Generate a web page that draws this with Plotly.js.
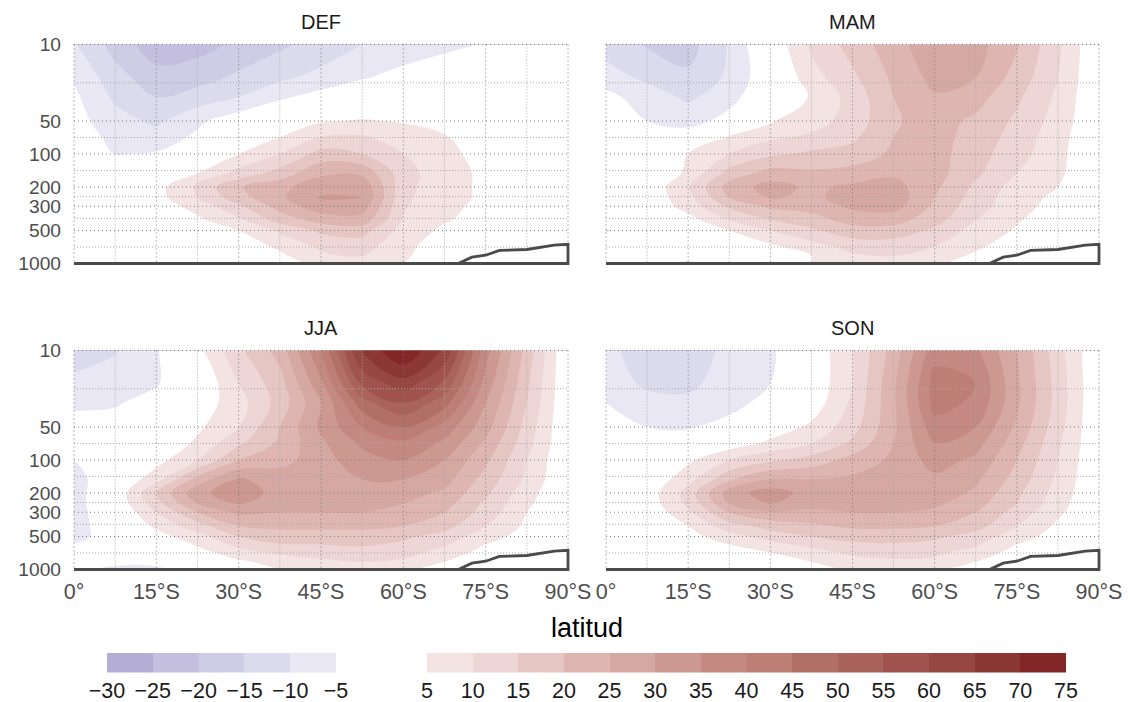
<!DOCTYPE html>
<html>
<head>
<meta charset="utf-8">
<script src="https://cdn.plot.ly/plotly-3.0.1.min.js"></script>
<style>
  html, body { margin: 0; padding: 0; background: #ffffff; }
  #chart { width: 1132px; height: 702px; }
</style>
</head>
<body>
<div id="chart"></div>
<script>
// Zonal-mean zonal wind (m/s) by season, latitude (0..90°S) and pressure level (hPa)
const latitudes = [0, 7.5, 15, 22.5, 30, 37.5, 45, 52.5, 60, 67.5, 75, 82.5, 90];
const pressureLevels = [10, 20, 30, 50, 70, 100, 150, 200, 250, 300, 400, 500, 700, 850, 1000];

const windDEF = [
  [-9.5, -17, -23, -22, -19, -16, -13, -10, -8.5, -6.5, -4.6, -2, -1],
  [-5.5, -13, -18, -17, -14, -11, -8.5, -5.5, -3, -1, 0, 0, 0],
  [-4, -11, -15, -13, -10, -6, -3, -1, 0, 1, 1, 1, 0],
  [-3, -8, -11, -6, -2, 1, 4.5, 5.5, 4.5, 2, 1, 0, 0],
  [-2, -6.5, -8, -4, 1, 5, 10, 10.5, 8, 5.5, 2, 1, 0],
  [-1, -5.2, -4.5, 0, 5, 10, 17, 15, 10, 6.5, 3, 1, 0],
  [0, 0, 2, 5, 12, 17, 24, 24, 12, 7, 4, 2, 1],
  [0, 1, 3, 11, 19.5, 23.5, 28, 29, 11.5, 7, 4, 2, 1],
  [0, 1, 3, 10, 18, 24, 30.5, 30, 11, 7, 4, 2, 1],
  [0, 1, 2, 7, 14, 22, 28, 27.5, 10.5, 6.5, 3.5, 2, 1],
  [0, 0, 1, 4, 9, 17, 22, 23, 9.5, 5.5, 3, 1, 0],
  [0, 0, 0, 2, 5, 11, 16, 17, 8, 4, 2, 1, 0],
  [-1, -1, -1, 0, 2, 6, 11, 12, 6.5, 2, 0, 0, 0],
  [-2, -3, -3, -2, 0, 4, 9, 10, 6, 1, 0, 0, 0],
  [-2, -4, -4, -3, -1, 2, 7, 7, 5, 0, 0, 0, 0]
];

const windMAM = [
  [-12, -15.5, -17, -9.5, 1, 11, 17, 23, 28.5, 27, 20.5, 11, 0],
  [-8, -11, -14, -9, -1, 8, 14, 21, 26.5, 25, 18, 10, 0],
  [-3.5, -7.5, -11, -7, 0, 5.5, 12, 20, 24.5, 22, 16, 9, 0],
  [-1.5, -5, -7, -3, 4.5, 8, 12, 19.5, 22, 19, 14, 8, 0],
  [0, -1, -2, 5.5, 9, 11, 14, 20, 22, 18, 13, 7, 0],
  [0, 0, 5, 10, 14, 16, 17, 21, 22, 17, 12, 6.5, 0],
  [0, 0, 6, 17, 22, 21, 22, 24, 22, 16, 10, 6, 0],
  [0, 1, 9.5, 22, 27, 24, 26, 27, 21, 14, 8, 5, 0],
  [0, 1, 8.5, 20, 25.5, 24, 27, 28, 20, 13, 7, 4, 0],
  [0, 1, 7, 16, 21, 22, 26, 27, 19, 12, 7, 3, 0],
  [-2, 0, 3, 10, 15, 18, 22, 22, 17, 10, 5.5, 2, 0],
  [-5.5, -1, 1, 5, 10, 14, 18, 18, 14, 8, 4.5, 2, 0],
  [-2, -2, -2, 1, 4, 8, 12, 12, 10, 6, 2, 1, 0],
  [-2, -3, -4, -2, 1, 5, 9, 10, 8, 4, 1, 0, 0],
  [-2, -4, -5.5, -3, 0, 5, 8, 8, 6, 2, 0, 0, 0]
];

const windJJA = [
  [-12, -10.5, -5.5, 3.5, 14, 22, 40, 66, 75, 64, 37, 18, 0],
  [-9, -7, -5.5, 0, 10, 18, 34, 56, 63, 54, 33, 16, 0],
  [-5.5, -5.5, -3, 2, 8, 17, 30, 48, 55, 47, 30, 15, 0],
  [-4, -3, -2, 4, 10, 20, 31, 40, 45, 38, 27, 13, 0],
  [-3, -2, 0, 6, 14, 21, 29, 36, 39, 34, 24, 12, 0],
  [-5, -1, 3, 10, 20, 23, 28, 33, 35, 30, 21, 10, 0],
  [-7.5, 0, 8, 22, 30.5, 28, 27, 30, 30, 27, 18, 9, 0],
  [-7.5, 1, 15, 28.5, 33, 28, 26, 28, 27, 24, 16, 7, 0],
  [-7.5, 1, 13, 25, 30.5, 27, 26, 27, 25, 22, 14, 6, 0],
  [-7.5, 0, 10, 20, 26, 25, 25, 25, 23, 20, 13, 5, 0],
  [-7.5, -1, 6, 13, 20, 21, 21, 21, 20, 17, 10, 4, 0],
  [-7, -2, 3, 8, 15, 18, 18, 18, 16, 13, 7, 3, 0],
  [-2, -2, 0, 3, 8, 11, 12, 13, 12, 8, 3, 1, 0],
  [-4, -4, -3.5, 0, 4, 7, 9, 10, 9, 5, 1, 0, 0],
  [-4, -6, -6, -3, 0, 5, 7, 8, 6, 2, 0, 0, 0]
];

const windSON = [
  [-9, -12, -12, -9, -6, 1, 10, 22, 38, 36, 25, 12, 0],
  [-7, -11, -11, -8, -5, 1, 10, 24, 42, 40, 26, 13, 0],
  [-5, -8, -9, -7, -3, 2, 11, 24, 42, 39, 26, 13, 0],
  [-3, -5, -5.5, -3, 2, 6, 13, 24, 38, 35, 24, 12, 0],
  [-1, -2, -2, 2, 6, 10, 16, 25, 35, 32, 22, 11, 0],
  [0, 0, 4, 10, 14, 17, 22, 26, 32, 29, 20, 10, 0],
  [0, 1, 8, 19, 25, 25, 26, 28, 29, 26, 18, 9, 0],
  [0, 2, 12, 27.5, 32.5, 28, 27, 28, 28, 24, 16, 8, 0],
  [0, 2, 11, 25, 30, 27, 27, 27, 26, 22, 15, 7, 0],
  [0, 1, 9, 20, 24.5, 24, 25, 25, 24, 20, 13, 6, 0],
  [0, 1, 5, 13, 17, 19, 21, 21, 20, 17, 10, 4, 0],
  [0, 0, 3, 8, 12, 15, 17, 17, 16, 13, 7, 3, 0],
  [-1, -1, -1, 2, 5, 8, 11, 12, 11, 8, 3, 1, 0],
  [-3, -3, -3, -1, 2, 5, 8, 9, 9, 5, 1, 0, 0],
  [-4, -5.5, -5, -2, 0, 3, 6, 7, 6, 2, 0, 0, 0]
];

const seasonNames = ['DEF', 'MAM', 'JJA', 'SON'];
const seasonWinds = [windDEF, windMAM, windJJA, windSON];

// Zonal-mean surface pressure (hPa): the Antarctic plateau rises south of 70°S
const surfaceLat = [0, 70, 72.5, 75, 77.5, 82.5, 87.5, 90];
const surfacePressure = [1000, 1000, 875, 840, 760, 745, 680, 668];

// Axis breaks
const latTicks = [0, 15, 30, 45, 60, 75, 90];
const latTickLabels = ['0°', '15°S', '30°S', '45°S', '60°S', '75°S', '90°S'];
const pressureTicks = [10, 50, 100, 200, 300, 500, 1000];
const pressureTickLabels = ['10', '50', '100', '200', '300', '500', '1000'];

// Filled contour levels and their colours
const negativeLevels = [-30, -25, -20, -15, -10, -5];
const positiveLevels = [5, 10, 15, 20, 25, 30, 35, 40, 45, 50, 55, 60, 65, 70, 75];
const negativeColors = ['#b4add6', '#c4bedf', '#cfcce5', '#dcdaed', '#e9e7f3'];
const positiveColors = ['#f3e4e3', '#edd6d5', '#e6c6c2', '#deb5b0', '#d6a8a2', '#cd9890', '#c48a82',
                        '#bc7e75', '#b16f65', '#a9635a', '#a0534e', '#964741', '#8b3734', '#832627'];
const neutralColor = '#ffffff';

// ---------- colour scale shared by contours and colour bars ----------
const levelStep = negativeLevels[1] - negativeLevels[0];
const zLow = negativeLevels[0] - levelStep / 2;
const zHigh = positiveLevels[positiveLevels.length - 1] + levelStep / 2;
const toUnit = v => (v - zLow) / (zHigh - zLow);

const bands = [];
bands.push([zLow, negativeLevels[0], negativeColors[0]]);
for (let i = 0; i < negativeColors.length; i++) bands.push([negativeLevels[i], negativeLevels[i + 1], negativeColors[i]]);
bands.push([negativeLevels[negativeLevels.length - 1], positiveLevels[0], neutralColor]);
for (let i = 0; i < positiveColors.length; i++) bands.push([positiveLevels[i], positiveLevels[i + 1], positiveColors[i]]);
bands.push([positiveLevels[positiveLevels.length - 1], zHigh, positiveColors[positiveColors.length - 1]]);
const colorscale = [];
bands.forEach(([a, b, c]) => { colorscale.push([toUnit(a), c]); colorscale.push([toUnit(b), c]); });
colorscale[0][0] = 0;
colorscale[colorscale.length - 1][0] = 1;

// ---------- page geometry (pixels) ----------
const W = 1132, H = 702;
const panelBoxes = [
  { L: 74, R: 568, T: 44.5, B: 263.5 },
  { L: 606, R: 1099, T: 44.5, B: 263.5 },
  { L: 74, R: 568, T: 350.5, B: 569.5 },
  { L: 606, R: 1099, T: 350.5, B: 569.5 }
];
const pad = 2;
const latMin = latTicks[0], latMax = latTicks[latTicks.length - 1];
const pTop = pressureTicks[0], pBottom = pressureTicks[pressureTicks.length - 1];

const font = 'Liberation Sans, Arial, Helvetica, sans-serif';
const latTickFont = { family: font, size: 21.5, color: '#4d4d4d' };
const pressureTickFont = { family: font, size: 19.2, color: '#4d4d4d' };

// minor breaks sit half-way between major breaks (log-half-way for pressure)
const latMinor = latTicks.slice(1).map((v, i) => (v + latTicks[i]) / 2);
const pressureMinor = pressureTicks.slice(1).map((v, i) => Math.sqrt(v * pressureTicks[i]));

function gridPath(xs, ys) {
  const gx = [], gy = [];
  xs.forEach(x => { gx.push(x, x, null); gy.push(pTop, pBottom, null); });
  ys.forEach(y => { gx.push(latMin, latMax, null); gy.push(y, y, null); });
  return { gx, gy };
}

const traces = [];
const layout = {
  width: W, height: H,
  margin: { l: 0, r: 0, t: 0, b: 0 },
  paper_bgcolor: '#ffffff', plot_bgcolor: 'rgba(0,0,0,0)',
  showlegend: false,
  font: { family: font },
  annotations: []
};

panelBoxes.forEach((box, k) => {
  const n = k + 1;
  const xa = 'x' + (n === 1 ? '' : n), ya = 'y' + (n === 1 ? '' : n);
  const xName = 'xaxis' + (n === 1 ? '' : n), yName = 'yaxis' + (n === 1 ? '' : n);
  const dxPx = (latMax - latMin) / (box.R - box.L);
  const dyPx = (Math.log10(pBottom) - Math.log10(pTop)) / (box.B - box.T);

  layout[xName] = {
    domain: [(box.L - pad) / W, (box.R + pad) / W],
    range: [latMin - pad * dxPx, latMax + pad * dxPx],
    anchor: ya,
    tickvals: latTicks, ticktext: latTickLabels,
    showticklabels: k >= 2,
    ticks: '', ticklabelstandoff: 5,
    tickfont: latTickFont,
    showgrid: false, zeroline: false, showline: false, fixedrange: true
  };
  layout[yName] = {
    type: 'log',
    domain: [1 - (box.B + pad) / H, 1 - (box.T - pad) / H],
    range: [Math.log10(pBottom) + pad * dyPx, Math.log10(pTop) - pad * dyPx],
    anchor: xa,
    tickvals: pressureTicks, ticktext: pressureTickLabels,
    showticklabels: k % 2 === 0,
    ticks: '', ticklabelstandoff: 10,
    tickfont: pressureTickFont,
    showgrid: false, zeroline: false, showline: false, fixedrange: true
  };

  // filled contours
  traces.push({
    type: 'contour', x: latitudes, y: pressureLevels, z: seasonWinds[k],
    xaxis: xa, yaxis: ya,
    autocontour: false,
    contours: { start: negativeLevels[0], end: positiveLevels[positiveLevels.length - 1], size: levelStep,
                coloring: 'fill', showlines: false },
    line: { width: 0, smoothing: 1.2 },
    colorscale: colorscale, showscale: false, hoverinfo: 'skip'
  });

  // dotted grid drawn above the fills
  const minor = gridPath(latMinor, pressureMinor);
  traces.push({ type: 'scatter', mode: 'lines', x: minor.gx, y: minor.gy, xaxis: xa, yaxis: ya,
    line: { color: '#a9a9a9', width: 1, dash: '1px,2px' }, hoverinfo: 'skip' });
  const major = gridPath(latTicks, pressureTicks);
  traces.push({ type: 'scatter', mode: 'lines', x: major.gx, y: major.gy, xaxis: xa, yaxis: ya,
    line: { color: '#7a7a7a', width: 1, dash: '1px,3px' }, hoverinfo: 'skip' });

  // ground: surface-pressure profile closed along the 1000 hPa line
  traces.push({ type: 'scatter', mode: 'lines',
    x: surfaceLat.concat([latMax, latMin]), y: surfacePressure.concat([pBottom, pBottom]),
    xaxis: xa, yaxis: ya, fill: 'toself', fillcolor: '#ffffff',
    line: { color: '#4a4a4a', width: 2.8 }, hoverinfo: 'skip' });

  // season label
  layout.annotations.push({
    text: seasonNames[k], xref: 'paper', yref: 'paper',
    x: (box.L + box.R) / 2 / W, y: 1 - (box.T - 22.5) / H,
    xanchor: 'center', yanchor: 'middle', showarrow: false,
    font: { family: font, size: 20, color: '#1a1a1a' }
  });
});

// shared x-axis title
layout.annotations.push({
  text: 'latitud', xref: 'paper', yref: 'paper',
  x: (panelBoxes[0].L + panelBoxes[1].R) / 2 / W, y: 1 - 628 / H,
  xanchor: 'center', yanchor: 'middle', showarrow: false,
  font: { family: font, size: 27, color: '#000000' }
});

// colour bars (one for easterlies, one for westerlies)
function colorBar(levels, n, left, right) {
  const centers = levels.slice(1).map((v, i) => (v + levels[i]) / 2);
  const top = 653, bottom = 672.5;
  traces.push({
    type: 'heatmap', x: centers, y: [0], z: [centers],
    xaxis: 'x' + n, yaxis: 'y' + n,
    zmin: zLow, zmax: zHigh, colorscale: colorscale, showscale: false, hoverinfo: 'skip'
  });
  layout['xaxis' + n] = {
    domain: [left / W, right / W], range: [levels[0], levels[levels.length - 1]], anchor: 'y' + n,
    tickvals: levels, ticktext: levels.map(v => (v < 0 ? '\u2212' + Math.abs(v) : String(v))),
    ticks: '', ticklabelstandoff: 3,
    tickfont: { family: font, size: 21.5, color: '#1a1a1a' },
    showgrid: false, zeroline: false, showline: false, fixedrange: true
  };
  layout['yaxis' + n] = {
    domain: [1 - bottom / H, 1 - top / H], range: [-0.5, 0.5], anchor: 'x' + n,
    showticklabels: false, ticks: '', showgrid: false, zeroline: false, showline: false, fixedrange: true
  };
}
colorBar(negativeLevels, 5, 107, 336);
colorBar(positiveLevels, 6, 427, 1066);

Plotly.newPlot('chart', traces, layout, { staticPlot: true, displayModeBar: false });
</script>
</body>
</html>
